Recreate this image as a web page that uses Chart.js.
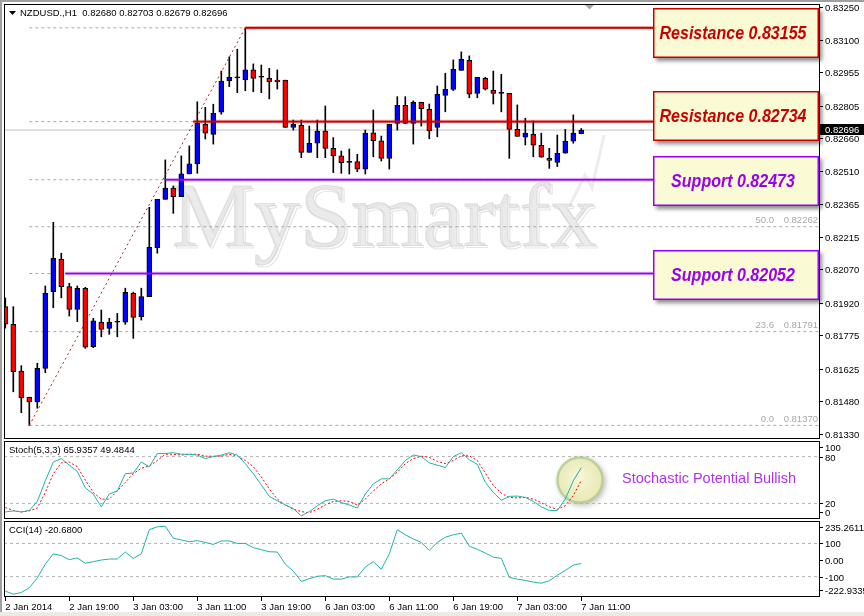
<!DOCTYPE html>
<html>
<head>
<meta charset="utf-8">
<script src="https://cdn.jsdelivr.net/npm/chart.js@4.4.1/dist/chart.umd.min.js"></script>
<style>
  html, body { margin: 0; padding: 0; background: #fff; }
  #wrap { position: relative; width: 864px; height: 616px; background: #fff; overflow: hidden; }
  canvas { position: absolute; left: 0; }
  #mainChart { top: 0; }
  #stochChart { top: 440px; }
  #cciChart { top: 520px; }
  .edge { position: absolute; background: #a0a0a0; }
</style>
</head>
<body>
<div id="wrap">
  <canvas id="mainChart" width="864" height="440"></canvas>
  <canvas id="stochChart" width="864" height="80"></canvas>
  <canvas id="cciChart" width="864" height="96"></canvas>
  <div class="edge" style="left:0;top:0;width:2px;height:616px"></div>
  <div class="edge" style="left:0;top:0;width:864px;height:2px"></div>
  <div class="edge" style="left:0;top:612px;width:864px;height:4px;background:#ecebe0"></div>
</div>
<script>
/* ================= DATA ================= */
const symbolName = "NZDUSD.,H1";

// H1 candles, 2 Jan 11:00 .. 7 Jan 11:00
const opens = [0.81903, 0.81824, 0.81614, 0.81496, 0.81476, 0.81626, 0.81970, 0.82116, 0.81993, 0.81891,
  0.81986, 0.81723, 0.81833, 0.81806, 0.81833, 0.81833, 0.81963, 0.81858, 0.81948, 0.82168,
  0.82385, 0.82435, 0.82397, 0.82499, 0.82544, 0.82722, 0.82677, 0.82776, 0.82918, 0.82930,
  0.82921, 0.82966, 0.82933, 0.82928, 0.82920, 0.82920, 0.82708, 0.82717, 0.82596, 0.82637,
  0.82692, 0.82614, 0.82580, 0.82551, 0.82554, 0.82520, 0.82684, 0.82648, 0.82569, 0.82726,
  0.82807, 0.82726, 0.82821, 0.82789, 0.82708, 0.82852, 0.82879, 0.82964, 0.83009, 0.82861,
  0.82928, 0.82875, 0.82861, 0.82861, 0.82699, 0.82664, 0.82677, 0.82628, 0.82569, 0.82551,
  0.82592, 0.82646, 0.82680];
const highs = [0.81942, 0.81903, 0.81638, 0.81497, 0.81649, 0.81996, 0.82282, 0.82143, 0.82008, 0.81996,
  0.81990, 0.81851, 0.81888, 0.81851, 0.81873, 0.81986, 0.81968, 0.81986, 0.82349, 0.82385,
  0.82562, 0.82445, 0.82580, 0.82625, 0.82823, 0.82798, 0.82812, 0.82961, 0.83025, 0.83059,
  0.83155, 0.82993, 0.82988, 0.82973, 0.82966, 0.82920, 0.82741, 0.82741, 0.82714, 0.82741,
  0.82804, 0.82662, 0.82602, 0.82611, 0.82587, 0.82696, 0.82786, 0.82669, 0.82722, 0.82846,
  0.82846, 0.82827, 0.82821, 0.82813, 0.82894, 0.82951, 0.83011, 0.83047, 0.83029, 0.82933,
  0.82933, 0.82961, 0.82946, 0.82861, 0.82809, 0.82749, 0.82737, 0.82682, 0.82614, 0.82674,
  0.82699, 0.82764, 0.82703];
const lows = [0.81807, 0.81521, 0.81427, 0.81370, 0.81447, 0.81607, 0.81898, 0.81943, 0.81861, 0.81836,
  0.81716, 0.81719, 0.81768, 0.81779, 0.81768, 0.81824, 0.81761, 0.81843, 0.81948, 0.82143,
  0.82385, 0.82322, 0.82397, 0.82499, 0.82502, 0.82656, 0.82633, 0.82767, 0.82891, 0.82864,
  0.82873, 0.82868, 0.82864, 0.82836, 0.82880, 0.82708, 0.82696, 0.82572, 0.82596, 0.82572,
  0.82572, 0.82505, 0.82502, 0.82499, 0.82509, 0.82499, 0.82576, 0.82557, 0.82521, 0.82696,
  0.82726, 0.82633, 0.82714, 0.82657, 0.82666, 0.82778, 0.82873, 0.82964, 0.82841, 0.82841,
  0.82876, 0.82813, 0.82778, 0.82569, 0.82668, 0.82629, 0.82576, 0.82574, 0.82524, 0.82532,
  0.82592, 0.82637, 0.82679];
const closes = [0.81825, 0.81611, 0.81494, 0.81476, 0.81626, 0.81963, 0.82120, 0.81993, 0.81891, 0.81986,
  0.81721, 0.81839, 0.81801, 0.81833, 0.81833, 0.81968, 0.81855, 0.81948, 0.82170, 0.82385,
  0.82435, 0.82397, 0.82499, 0.82544, 0.82726, 0.82682, 0.82771, 0.82916, 0.82933, 0.82930,
  0.82966, 0.82928, 0.82933, 0.82913, 0.82913, 0.82708, 0.82722, 0.82596, 0.82637, 0.82692,
  0.82614, 0.82580, 0.82550, 0.82551, 0.82520, 0.82682, 0.82648, 0.82569, 0.82722, 0.82807,
  0.82726, 0.82821, 0.82792, 0.82692, 0.82857, 0.82879, 0.82969, 0.83014, 0.82857, 0.82933,
  0.82880, 0.82861, 0.82861, 0.82699, 0.82668, 0.82682, 0.82628, 0.82574, 0.82560, 0.82592,
  0.82646, 0.82682, 0.82696];

// Stochastic (5,3,3): main and signal
const stochMain = [9, 10.4, 9, 11, 22.5, 49, 73, 77.5, 69, 61,
  40, 32, 15.6, 32, 36, 58, 59, 73, 67, 84,
  84, 85, 83, 83, 82, 77.5, 80, 82, 85, 82,
  71, 58, 43.7, 29, 23.4, 18, 13.4, 4, 9.5, 17,
  23.4, 25.5, 21, 18, 14, 32, 45, 51.5, 51.5, 63,
  75, 82, 80, 72, 69, 66, 80, 85, 76, 70,
  47, 34, 24, 29, 29.4, 27.7, 22.5, 15.6, 11, 11,
  25.5, 49, 65.9357];
const stochSignal = [14.7, 11, 9, 10.4, 14, 34, 58, 72, 73, 67,
  50, 34, 25.5, 25.5, 36, 47, 58, 65, 68, 75,
  83, 83, 82, 83, 83, 80.5, 80.5, 80.5, 83, 81,
  75, 67, 54, 38.5, 25.5, 18, 12.5, 9.5, 8, 12.5,
  18, 22.5, 23.4, 22.5, 18, 25.5, 36, 45, 51.5, 60,
  71, 77.5, 80.5, 79, 74, 71, 75, 81, 81, 75,
  59, 43, 33, 27.7, 27, 27.7, 25.5, 21, 15.6, 12.5,
  17, 30, 49.4844];

// CCI(14)
const cciValues = [-187.5, -206, -196, -167, -108, -25, 37.5, 27, 2, 12.5,
  -19, -10, 0, 6, 6, 48, 10, 37.5, 183, 200,
  204, 131, 121, 110, 117, 106, 94, 115, 115, 100,
  100, 75, 62.5, 50, 48, -25, -67, -129, -112.5, -98,
  -94, -115, -115, -102, -102, -42, -10, -56, 37.5, 183,
  152, 127, 106, 58, 106, 137.5, 152, 162.5, 83, 65,
  42, 17, 10, -104, -115, -123, -133, -140, -125, -92,
  -62.5, -31, -20.68];

// axes
const priceTicks = [0.83250, 0.83100, 0.82955, 0.82805, 0.82660, 0.82510, 0.82365,
  0.82215, 0.82070, 0.81920, 0.81775, 0.81625, 0.81480, 0.81330];
const stochTicks = [100, 80, 20, 0];
const stochLevels = [80, 20];
const cciTicks = [235.2611, 100, 0, -100, -222.9335];
const cciTickText = ["235.2611", "100", "0.00", "-100", "-222.9335"];
const cciLevels = [100, -100];
const timeTickBars = [0, 8, 16, 24, 32, 40, 48, 56, 64, 72];
const timeLabels = ["2 Jan 2014", "2 Jan 19:00", "3 Jan 03:00", "3 Jan 11:00", "3 Jan 19:00",
  "6 Jan 03:00", "6 Jan 11:00", "6 Jan 19:00", "7 Jan 03:00", "7 Jan 11:00"];

// fibonacci retracement (low bar 3 -> high bar 30)
const fibRatios = ["0.0", "23.6", "38.2", "50.0", "61.8", "76.4", "100.0"];
const fibLevels = [0.81370, 0.81791, 0.82052, 0.82262, 0.82473, 0.82734, 0.83155];
const fibFromBar = 3;
const fibToBar = 30;

// support / resistance lines
const srLevels = [0.83155, 0.82734, 0.82473, 0.82052];
const srKinds = ["Resistance", "Resistance", "Support", "Support"];
const srStartBars = [30, 23.5, 20, 7.5];

const noteText = "Stochastic Potential Bullish";

/* ================= LAYOUT ================= */
const xMin = -0.1625, xMax = 101.8375;
const FONT = '9.5px "Liberation Sans", Arial, sans-serif';
const srColor = { Resistance: "#c80000", Support: "#9a00f0" };
const srGlow = { Resistance: "rgba(200,0,0,0.35)", Support: "rgba(154,0,240,0.35)" };
const boxTops = [8, 91, 156, 250];

const idx = opens.map((_, i) => i);
const pts = arr => arr.map((v, i) => ({ x: i, y: v }));
const hline = (y, x0, color, width, dash, order) => ({
  type: "line",
  data: [{ x: x0, y: y }, { x: xMax, y: y }],
  borderColor: color, borderWidth: width, borderDash: dash || [],
  pointRadius: 0, fill: false, order: order
});

function panelPlugin(cfg) {
  return {
    id: "panel",
    beforeDatasetsDraw(chart) { if (cfg.under) cfg.under(chart); },
    afterDatasetsDraw(chart) { if (cfg.over) cfg.over(chart); },
    afterDraw(chart) {
      const { ctx, chartArea: a } = chart;
      const ys = chart.scales.y;
      ctx.save();
      ctx.font = FONT;
      ctx.textBaseline = "middle";
      ctx.textAlign = "left";
      ctx.fillStyle = "#000";
      cfg.ticks.forEach((v, i) => {
        let py = Math.round(ys.getPixelForValue(v));
        if (cfg.clamp) py = Math.min(Math.max(py, a.top + 6), a.bottom - 7);
        ctx.fillRect(a.right, py, 3, 1);
        ctx.fillText(cfg.text(v, i), a.right + 5, py + 1);
      });
      ctx.fillText(cfg.title, cfg.titleX, a.top + cfg.titleDy);
      ctx.strokeStyle = "#000";
      ctx.lineWidth = 1;
      ctx.strokeRect(a.left + 0.5, a.top + 0.5, a.right - a.left - 1, a.bottom - a.top - 1);
      if (cfg.last) cfg.last(chart);
      ctx.restore();
    }
  };
}

const baseOptions = (yMin, yMax, pad, xAxis) => ({
  responsive: false,
  animation: false,
  devicePixelRatio: 1,
  events: [],
  layout: { padding: pad },
  plugins: { legend: { display: false }, tooltip: { enabled: false } },
  scales: {
    x: xAxis || { type: "linear", min: xMin, max: xMax, offset: false, display: false },
    y: { type: "linear", min: yMin, max: yMax, display: false }
  }
});

/* ================= MAIN CHART ================= */
const bodyColors = idx.map(i => closes[i] > opens[i] ? "#0000ff" : closes[i] < opens[i] ? "#ff0000" : "#000000");
const last = opens.length - 1;

const mainDatasets = [];
fibLevels.forEach(l => mainDatasets.push(hline(l, fibFromBar, "#a9a9a9", 1, [3, 3], 9)));
mainDatasets.push(hline(closes[last], xMin, "#c0c0c0", 1, [], 8));
mainDatasets.push({
  type: "bar", data: idx.map(i => ({ x: i, y: [lows[i], highs[i]] })),
  backgroundColor: "#000", barThickness: 1, grouped: false, order: 3
});
mainDatasets.push({
  type: "bar", data: idx.map(i => ({ x: i, y: [opens[i], closes[i]] })),
  backgroundColor: bodyColors, borderColor: "#000", borderWidth: 1, borderSkipped: false,
  barThickness: 5, minBarLength: 1, grouped: false, order: 2
});
srLevels.forEach((l, k) => {
  mainDatasets.push(hline(l, srStartBars[k], srGlow[srKinds[k]], 3.5, [], 1));
  mainDatasets.push(hline(l, srStartBars[k], srColor[srKinds[k]], 1.6, [], 1));
});
mainDatasets.push({
  type: "line",
  data: [{ x: fibFromBar, y: fibLevels[0] }, { x: fibToBar, y: fibLevels[fibLevels.length - 1] }],
  borderColor: "#ff0000", borderWidth: 1, borderDash: [2, 3], pointRadius: 0, order: 0
});

new Chart(document.getElementById("mainChart"), {
  type: "bar",
  data: { datasets: mainDatasets },
  options: baseOptions(0.81309, 0.83262, { left: 4, right: 44, top: 4, bottom: 1 }),
  plugins: [panelPlugin({
    ticks: priceTicks,
    text: v => v.toFixed(5),
    title: symbolName + "  " + [opens[last], highs[last], lows[last], closes[last]].map(v => v.toFixed(5)).join(" "),
    titleX: 20, titleDy: 9,
    under(chart) {
      const ctx = chart.ctx;
      ctx.save();
      ctx.font = '92px "Liberation Serif", serif';
      ctx.textBaseline = "alphabetic";
      ctx.lineWidth = 1.2;
      ctx.strokeStyle = "rgba(150,150,150,0.25)";
      ctx.strokeText("MySmartfx", 174, 248);
      ctx.fillStyle = "rgba(226,226,226,0.7)";
      ctx.fillText("MySmartfx", 172, 246);
      ctx.strokeStyle = "rgba(175,175,175,0.3)";
      ctx.strokeText("MySmartfx", 172, 246);
      // faint logo arrow
      ctx.strokeStyle = "rgba(200,200,200,0.35)";
      ctx.lineWidth = 3;
      ctx.beginPath();
      ctx.moveTo(570, 205); ctx.lineTo(585, 175); ctx.lineTo(592, 188); ctx.lineTo(604, 135);
      ctx.stroke();
      ctx.restore();
    },
    over(chart) {
      const { ctx, chartArea: a } = chart;
      const ys = chart.scales.y;
      ctx.save();
      // fibo level captions
      ctx.font = FONT;
      ctx.fillStyle = "#a8a8a8";
      ctx.textBaseline = "middle";
      ctx.textAlign = "right";
      fibLevels.forEach((l, k) => {
        const py = ys.getPixelForValue(l) - 6;
        ctx.fillText(fibRatios[k], a.right - 46, py);
        ctx.fillText(l.toFixed(5), a.right - 2, py);
      });
      // level boxes
      srLevels.forEach((l, k) => {
        const col = srColor[srKinds[k]];
        const top = boxTops[k], left = 653, w = 166, h = 50;
        ctx.save();
        ctx.shadowColor = "rgba(0,0,0,0.45)";
        ctx.shadowBlur = 4;
        ctx.shadowOffsetX = 3;
        ctx.shadowOffsetY = 3;
        ctx.fillStyle = "#fafad4";
        ctx.fillRect(left, top, w, h);
        ctx.restore();
        ctx.strokeStyle = col;
        ctx.lineWidth = 1.5;
        ctx.strokeRect(left + 0.75, top + 0.75, w - 1.5, h - 1.5);
        ctx.save();
        ctx.translate(733, top + h / 2 + 1);
        ctx.scale(0.89, 1);
        ctx.font = 'italic bold 18px "Liberation Sans", Arial, sans-serif';
        ctx.textAlign = "center";
        ctx.fillStyle = col;
        ctx.fillText(srKinds[k] + " " + l.toFixed(5), 0, 0);
        ctx.restore();
      });
      // chart shift marker
      ctx.fillStyle = "#a8a8a8";
      ctx.beginPath();
      ctx.moveTo(585, 5); ctx.lineTo(594, 5); ctx.lineTo(589.5, 9.5); ctx.closePath();
      ctx.fill();
      ctx.restore();
    },
    last(chart) {
      const { ctx, chartArea: a } = chart;
      const py = Math.round(chart.scales.y.getPixelForValue(closes[last]));
      ctx.fillStyle = "#000";
      ctx.fillRect(a.right, py - 6, 44, 11);
      ctx.fillStyle = "#fff";
      ctx.fillText(closes[last].toFixed(5), a.right + 5, py);
      // drop-down triangle before the symbol
      ctx.fillStyle = "#000";
      ctx.beginPath();
      ctx.moveTo(9, 11); ctx.lineTo(16, 11); ctx.lineTo(12.5, 15); ctx.closePath();
      ctx.fill();
    }
  })]
});

/* ================= STOCHASTIC ================= */
const stochDatasets = stochLevels.map(l => hline(l, xMin, "#b4b4b4", 1, [3, 3], 5));
stochDatasets.push({ type: "line", data: pts(stochSignal), borderColor: "#ff0000", borderWidth: 1,
  borderDash: [2, 2], pointRadius: 0, tension: 0, order: 2 });
stochDatasets.push({ type: "line", data: pts(stochMain), borderColor: "#20b2aa", borderWidth: 1,
  pointRadius: 0, tension: 0, order: 1 });

new Chart(document.getElementById("stochChart"), {
  type: "line",
  data: { datasets: stochDatasets },
  options: baseOptions(0, 100, { left: 4, right: 44, top: 1, bottom: 1 }),
  plugins: [panelPlugin({
    ticks: stochTicks, clamp: true,
    text: v => String(v),
    title: "Stoch(5,3,3) " + stochMain[last].toFixed(4) + " " + stochSignal[last].toFixed(4),
    titleX: 9, titleDy: 9,
    under(chart) {
      const ctx = chart.ctx;
      ctx.save();
      ctx.shadowColor = "rgba(0,0,0,0.3)";
      ctx.shadowBlur = 6;
      ctx.shadowOffsetX = 2;
      ctx.shadowOffsetY = 2;
      const g = ctx.createRadialGradient(578, 37, 2, 580, 40, 24);
      g.addColorStop(0, "#f6f6d4");
      g.addColorStop(1, "#e8e8b6");
      ctx.fillStyle = g;
      ctx.beginPath();
      ctx.arc(580, 40, 23, 0, Math.PI * 2);
      ctx.fill();
      ctx.restore();
      ctx.save();
      ctx.strokeStyle = "rgba(176,204,140,0.8)";
      ctx.lineWidth = 2.5;
      ctx.beginPath();
      ctx.arc(580, 40, 22.5, 0, Math.PI * 2);
      ctx.stroke();
      ctx.restore();
    },
    over(chart) {
      const ctx = chart.ctx;
      ctx.save();
      ctx.font = '14.5px "Liberation Sans", Arial, sans-serif';
      ctx.fillStyle = "#b030f0";
      ctx.textBaseline = "middle";
      ctx.fillText(noteText, 622, 39);
      ctx.restore();
    }
  })]
});

/* ================= CCI ================= */
const cciDatasets = cciLevels.map(l => hline(l, xMin, "#b4b4b4", 1, [3, 3], 5));
cciDatasets.push({ type: "line", data: pts(cciValues), borderColor: "#20b2aa", borderWidth: 1,
  pointRadius: 0, tension: 0, order: 1 });

new Chart(document.getElementById("cciChart"), {
  type: "line",
  data: { datasets: cciDatasets },
  options: baseOptions(-222.9335, 235.2611, { left: 4, right: 44, top: 1, bottom: 0 }, {
    type: "linear", min: xMin, max: xMax, offset: false,
    afterBuildTicks: s => { s.ticks = timeTickBars.map(v => ({ value: v })); },
    afterFit: s => { s.height = 19; },
    grid: { display: true, drawOnChartArea: false, drawTicks: true, tickLength: 4, color: "#000" },
    border: { display: false },
    ticks: {
      autoSkip: false, maxRotation: 0, minRotation: 0, align: "start", padding: 1,
      color: "#000", font: { family: '"Liberation Sans", Arial, sans-serif', size: 9.5 },
      callback: (v, i) => timeLabels[i]
    }
  }),
  plugins: [panelPlugin({
    ticks: cciTicks, clamp: true,
    text: (v, i) => cciTickText[i],
    title: "CCI(14) " + cciValues[last].toFixed(4),
    titleX: 9, titleDy: 9
  })]
});
</script>
</body>
</html>
